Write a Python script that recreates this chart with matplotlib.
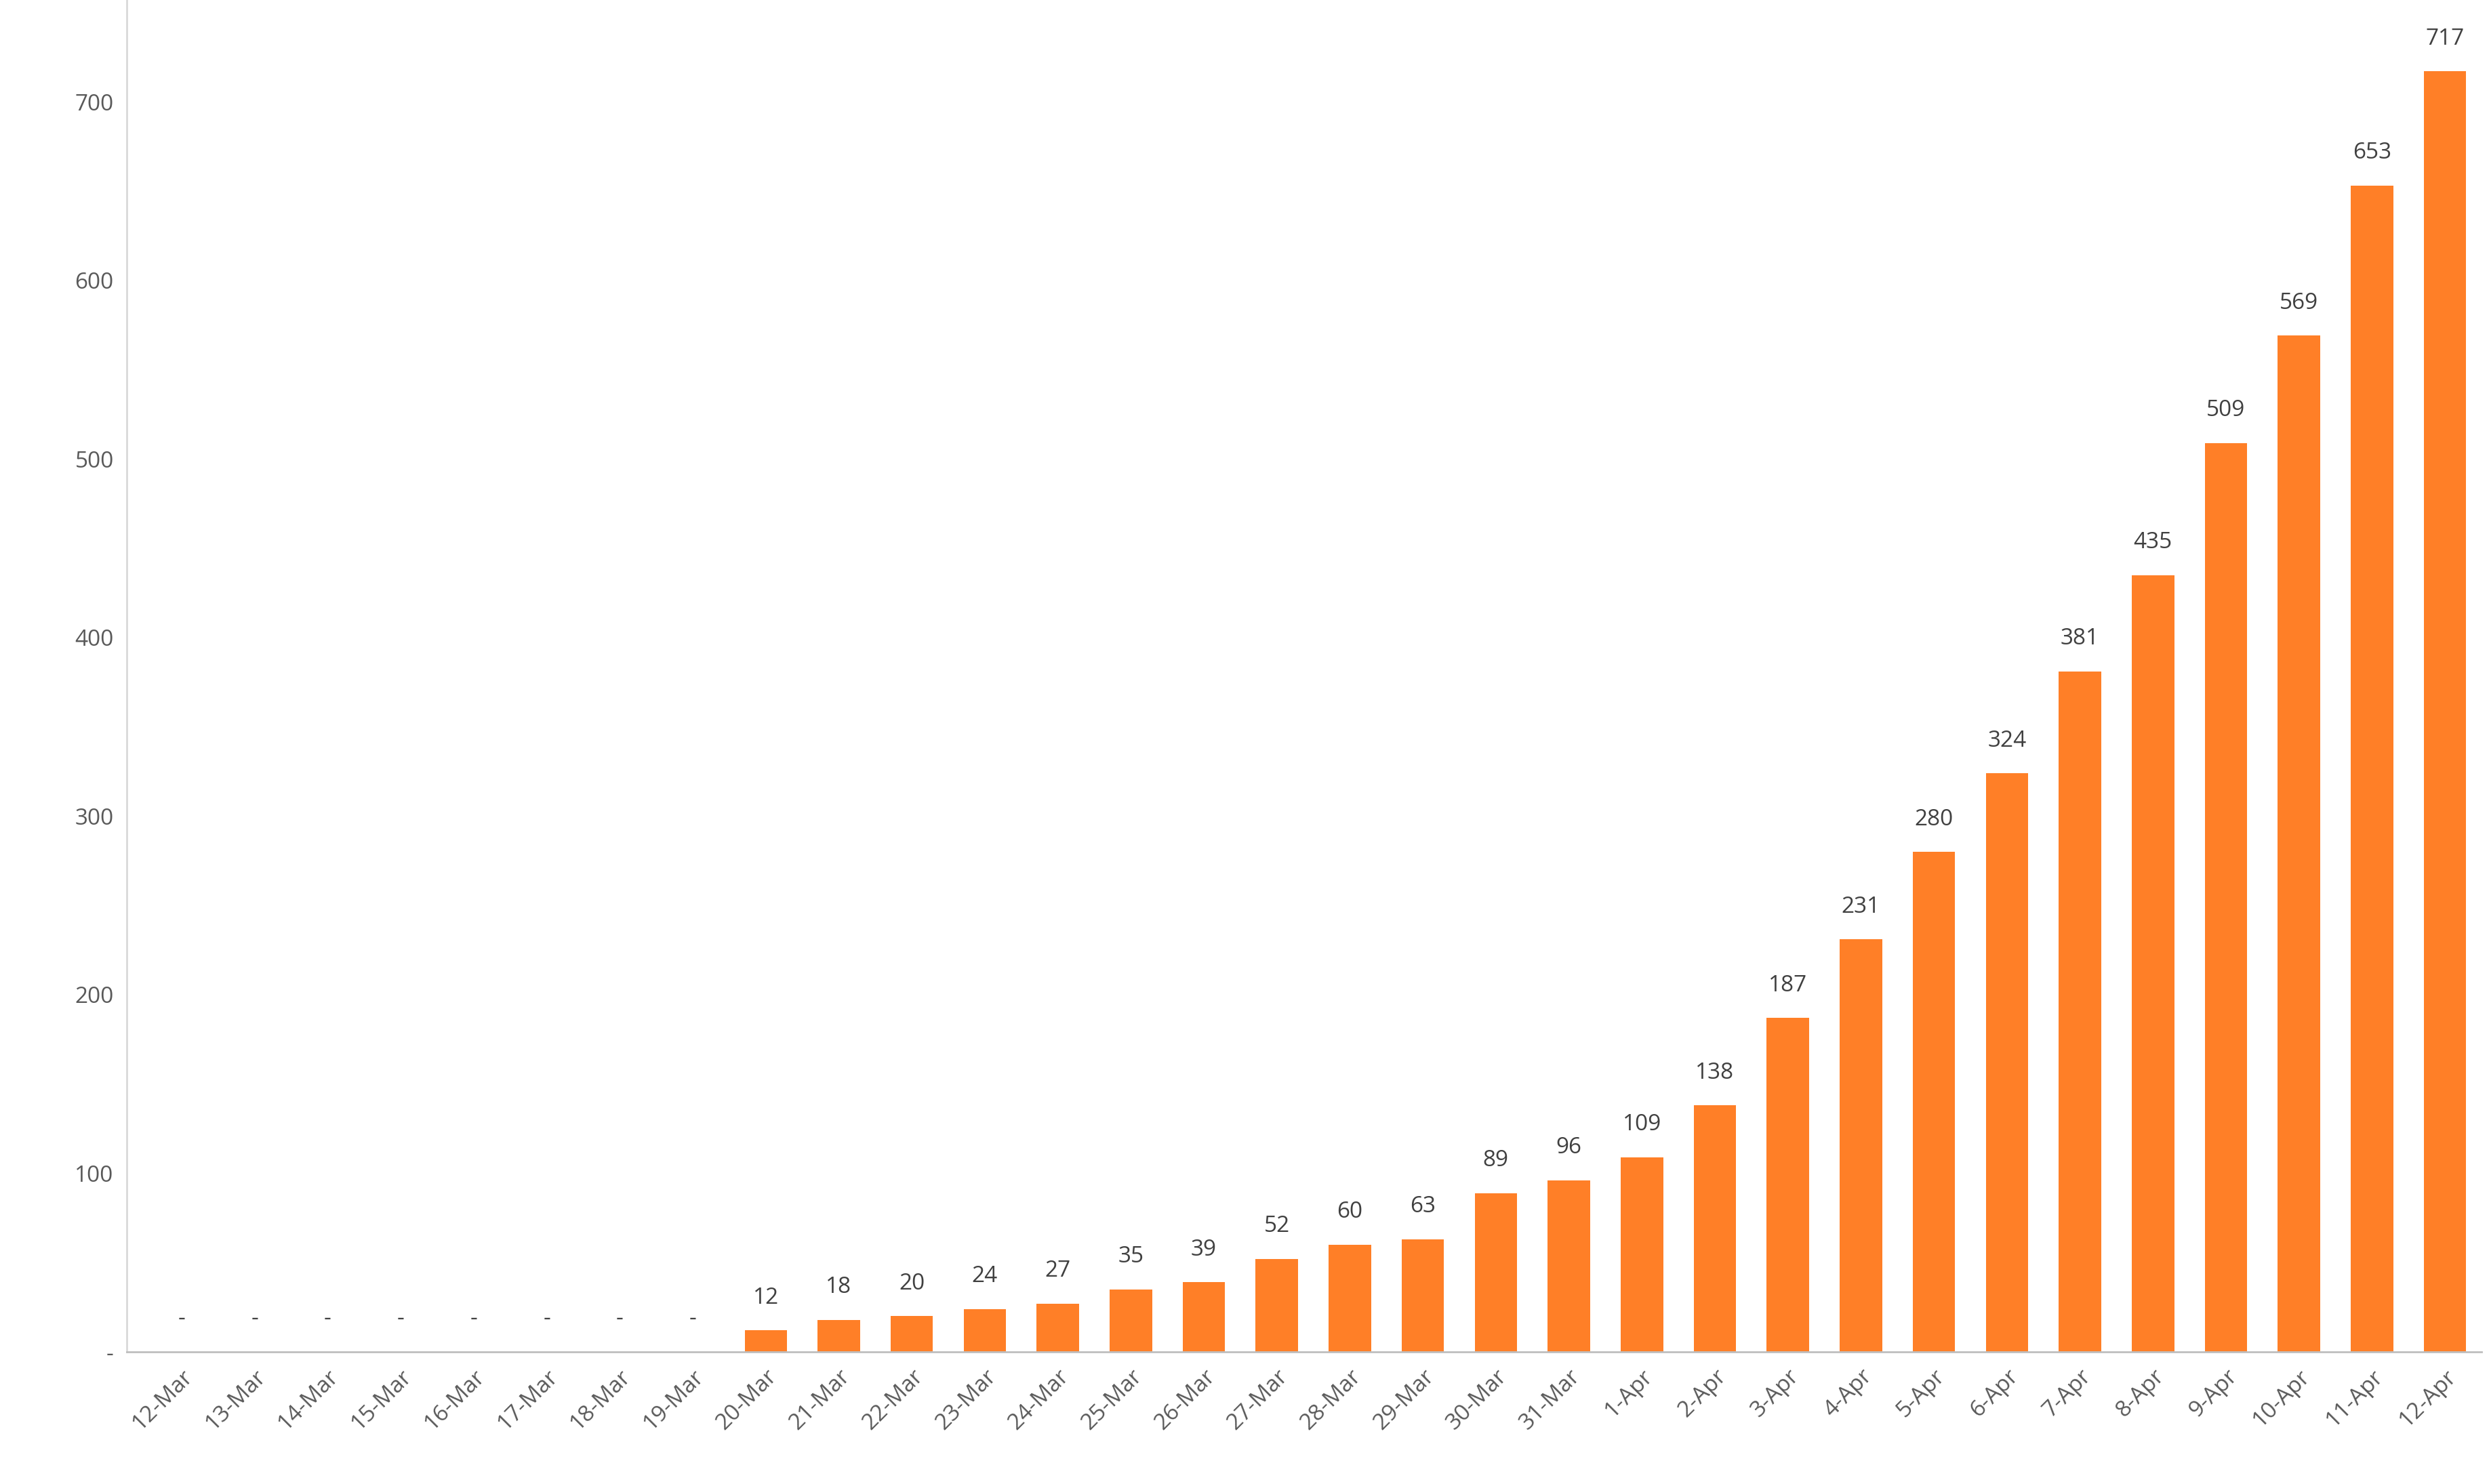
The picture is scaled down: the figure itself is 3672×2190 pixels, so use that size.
import matplotlib.pyplot as plt

plt.rcParams['font.family'] = ['Open Sans', 'DejaVu Sans']

# Dates and cumulative values
dates = ['12-Mar', '13-Mar', '14-Mar', '15-Mar', '16-Mar', '17-Mar', '18-Mar', '19-Mar',
         '20-Mar', '21-Mar', '22-Mar', '23-Mar', '24-Mar', '25-Mar', '26-Mar', '27-Mar',
         '28-Mar', '29-Mar', '30-Mar', '31-Mar', '1-Apr', '2-Apr', '3-Apr', '4-Apr',
         '5-Apr', '6-Apr', '7-Apr', '8-Apr', '9-Apr', '10-Apr', '11-Apr', '12-Apr']
values = [0, 0, 0, 0, 0, 0, 0, 0,
          12, 18, 20, 24, 27, 35, 39, 52,
          60, 63, 89, 96, 109, 138, 187, 231,
          280, 324, 381, 435, 509, 569, 653, 717]
yticks = [0, 100, 200, 300, 400, 500, 600, 700]
ytick_labels = ['-', '100', '200', '300', '400', '500', '600', '700']

fig = plt.figure(figsize=(36.72, 21.9), dpi=100)
ax = fig.add_axes([0.051, 0.089, 0.946, 0.911])

x = range(len(dates))
ax.bar(x, values, width=0.58, color='#FF7F27')

#Value labels, zero shown as a dash like Excel's accounting format
for i, v in enumerate(values):
    ax.text(i, v + 12, str(v) if v else '-', ha='center', va='bottom',
            fontsize=24, color='#404040')

ax.set_xlim(-0.75, len(dates) - 0.5)
ax.set_ylim(0, 757)
ax.set_yticks(yticks)
ax.set_yticklabels(ytick_labels)
ax.set_xticks(list(x))
ax.set_xticklabels(dates, rotation=45, ha='right', rotation_mode='anchor')
ax.tick_params(axis='both', length=0, labelsize=24, labelcolor='#595959', pad=14)

for side in ['top', 'right']:
    ax.spines[side].set_visible(False)
ax.spines['left'].set_color('#D9D9D9')
ax.spines['left'].set_linewidth(2)
ax.spines['bottom'].set_color('#BFBFBF')
ax.spines['bottom'].set_linewidth(2)

fig.savefig('out.png', dpi=100)
